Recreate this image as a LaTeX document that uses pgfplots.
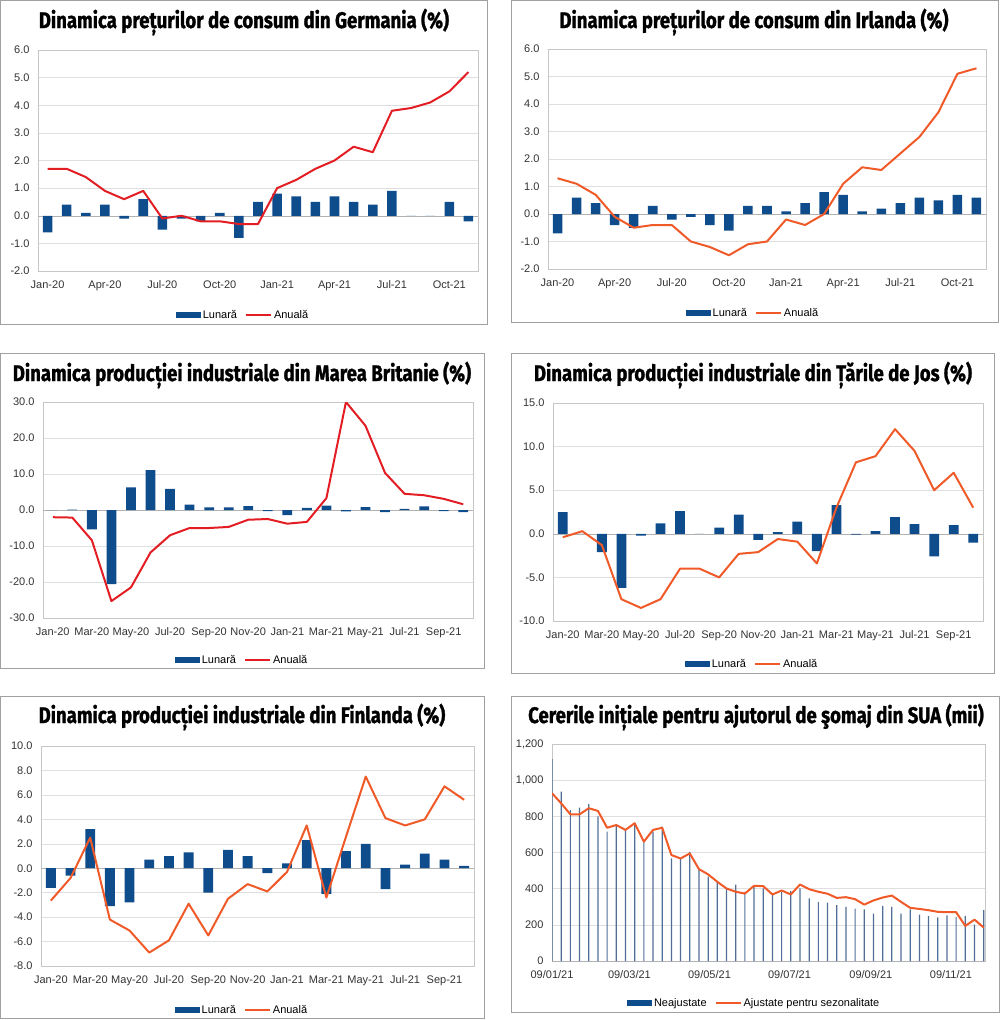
\documentclass[border=0pt]{standalone}
\usepackage{fontspec}
\setmainfont{Liberation Sans}
\newfontfamily\titlefont{Fira Sans}[FakeStretch=0.825, BoldFeatures={FakeBold=1.2}]
\usepackage{pgfplots}
\pgfplotsset{compat=1.18}
\usepackage{pgfplotstable}

\definecolor{lunar}{RGB}{15,76,140}
\definecolor{anred}{RGB}{226,30,36}
\definecolor{anorg}{RGB}{240,90,40}
\definecolor{usbar}{RGB}{80,110,150}
\definecolor{frame}{RGB}{160,160,160}

% i = luna (0 = Jan-20), m = lunara, a = anuala
\pgfplotstableread{
i m a
0 -0.6 1.7
1 0.4 1.7
2 0.1 1.4
3 0.4 0.9
4 -0.1 0.6
5 0.6 0.9
6 -0.5 -0.1
7 -0.1 0.0
8 -0.2 -0.2
9 0.1 -0.2
10 -0.8 -0.3
11 0.5 -0.3
12 0.8 1.0
13 0.7 1.3
14 0.5 1.7
15 0.7 2.0
16 0.5 2.5
17 0.4 2.3
18 0.9 3.8
19 0.0 3.9
20 0.0 4.1
21 0.5 4.5
22 -0.2 5.2
}\germania

\pgfplotstableread{
i m a
0 -0.7 1.3
1 0.6 1.1
2 0.4 0.7
3 -0.4 -0.1
4 -0.5 -0.5
5 0.3 -0.4
6 -0.2 -0.4
7 -0.1 -1.0
8 -0.4 -1.2
9 -0.6 -1.5
10 0.3 -1.1
11 0.3 -1.0
12 0.1 -0.2
13 0.4 -0.4
14 0.8 0.0
15 0.7 1.1
16 0.1 1.7
17 0.2 1.6
18 0.4 2.2
19 0.6 2.8
20 0.5 3.7
21 0.7 5.1
22 0.6 5.3
}\irlanda

\pgfplotstableread{
i m a
0 0.0 -2.0
1 0.1 -2.1
2 -5.4 -8.4
3 -20.6 -25.3
4 6.3 -21.5
5 11.1 -11.8
6 5.9 -7.0
7 1.5 -5.0
8 0.7 -5.0
9 0.7 -4.7
10 1.1 -2.7
11 -0.3 -2.5
12 -1.4 -3.8
13 0.6 -3.3
14 1.2 3.3
15 -0.4 30.0
16 0.8 23.4
17 -0.6 10.3
18 0.3 4.5
19 1.0 4.1
20 -0.3 3.1
21 -0.6 1.6
}\britania

\pgfplotstableread{
i m a
0 2.5 -0.4
1 0.0 0.3
2 -2.1 -1.3
3 -6.2 -7.5
4 -0.2 -8.5
5 1.2 -7.5
6 2.6 -4.0
7 0.0 -4.0
8 0.7 -5.0
9 2.2 -2.3
10 -0.7 -2.1
11 0.2 -0.6
12 1.4 -0.9
13 -2.0 -3.4
14 3.3 3.0
15 -0.1 8.2
16 0.3 8.9
17 1.9 12.0
18 1.1 9.5
19 -2.6 5.0
20 1.0 7.0
21 -1.0 3.0
}\tarilejos

\pgfplotstableread{
i m a
0 -1.6 -2.65
1 -0.6 -0.8
2 3.2 2.5
3 -3.1 -4.2
4 -2.8 -5.1
5 0.7 -6.9
6 1.0 -5.9
7 1.3 -2.9
8 -2.0 -5.5
9 1.5 -2.5
10 1.0 -1.3
11 -0.4 -1.9
12 0.4 -0.3
13 2.3 3.5
14 -2.1 -2.4
15 1.4 2.6
16 2.0 7.5
17 -1.7 4.1
18 0.3 3.5
19 1.2 4.0
20 0.7 6.7
21 0.2 5.6
}\finlanda

% d = zile de la 09/01/21, n = neajustate, s = ajustate sezonier (mii)
\pgfplotstableread{
d n s
0 1116 928
7 937 872
14 835 811
21 848 811
28 867 845
35 800 830
42 715 737
49 752 752
56 725 725
63 762 762
70 660 660
77 715 725
84 743 737
91 567 586
98 567 567
105 604 595
112 503 508
119 466 479
126 438 438
133 405 401
140 423 383
147 383 373
154 410 416
161 401 414
168 368 368
175 383 390
182 386 368
189 401 423
196 346 397
203 327 383
210 323 372
217 309 349
224 299 353
231 290 342
238 285 312
245 262 335
252 305 351
259 299 362
266 262 327
273 286 294
280 257 288
287 248 281
294 242 272
301 253 270
308 244 270
315 250 194
322 201 229
329 281 185
}\somaj

\pgfplotsset{
  panel/.style={
    scale only axis, anchor=south west,
    axis line style={gray!45},
    ymajorgrids, grid style={gray!25},
    major tick length=0pt,
    tick label style={font=\fontsize{11}{13}\selectfont, text=black!80},
    xticklabel style={yshift=-6pt},
    yticklabel style={xshift=-5pt},
    /pgf/number format/assume math mode=true,
    yticklabel style={/pgf/number format/.cd, fixed, fixed zerofill, precision=1},
    extra y ticks={0}, extra y tick labels={},
    extra y tick style={grid style={gray!60}},
    legend style={draw=none, fill=none, legend columns=2, anchor=center,
      font=\fontsize{11}{13}\selectfont,
      /tikz/every even column/.append style={column sep=6pt}},
  },
  lunara/.style={ybar, bar width=0.5, fill=lunar, draw=none,
    legend image code/.code={\fill[lunar] (0pt,-3pt) rectangle (25pt,3pt);}},
  anuala/.style={line width=2pt, #1, no marks, line join=round,
    legend image code/.code={\draw[#1, line width=2pt] (0pt,0pt) -- (25pt,0pt);}},
}
\tikzset{titlu/.style={font=\titlefont\bfseries\fontsize{22.5}{26}\selectfont}}

\begin{document}
\begin{tikzpicture}
\path[use as bounding box] (0,0) rectangle (1000pt,-1020pt);

% chenarele
\draw[frame] (0.5pt,-0.5pt) rectangle (487pt,-324pt);
\draw[frame] (511pt,-0.5pt) rectangle (998pt,-322pt);
\draw[frame] (0.5pt,-353pt) rectangle (484pt,-668pt);
\draw[frame] (511pt,-353pt) rectangle (994pt,-673pt);
\draw[frame] (0.5pt,-696pt) rectangle (484pt,-1018pt);
\draw[frame] (511pt,-696pt) rectangle (999pt,-1012pt);

% titluri
\node[titlu] at (244pt,-22pt) {Dinamica prețurilor de consum din Germania (\%)};
\node[titlu] at (754pt,-22pt) {Dinamica prețurilor de consum din Irlanda (\%)};
\node[titlu] at (242pt,-375pt) {Dinamica producției industriale din Marea Britanie (\%)};
\node[titlu] at (753pt,-375pt) {Dinamica producției industriale din Țările de Jos (\%)};
\node[titlu] at (242pt,-717pt) {Dinamica producției industriale din Finlanda (\%)};
\node[titlu] at (756pt,-717pt) {Cererile inițiale pentru ajutorul de şomaj din SUA (mii)};

% Germania
\begin{axis}[panel, at={(38pt,-271pt)}, width=440pt, height=221pt,
  xmin=-0.5, xmax=22.5, ymin=-2, ymax=6, ytick={-2,-1,...,6},
  xtick={0,3,...,21},
  xticklabels={Jan-20,Apr-20,Jul-20,Oct-20,Jan-21,Apr-21,Jul-21,Oct-21},
  legend style={at={(0.466,-0.199)}}]
\addplot[lunara] table[x=i,y=m]{\germania};
\addplot[anuala=anred] table[x=i,y=a]{\germania};
\legend{Lunară,Anuală}
\end{axis}

% Irlanda
\begin{axis}[panel, at={(548pt,-269pt)}, width=438pt, height=220pt,
  xmin=-0.5, xmax=22.5, ymin=-2, ymax=6, ytick={-2,-1,...,6},
  xtick={0,3,...,21},
  xticklabels={Jan-20,Apr-20,Jul-20,Oct-20,Jan-21,Apr-21,Jul-21,Oct-21},
  legend style={at={(0.468,-0.2)}}]
\addplot[lunara] table[x=i,y=m]{\irlanda};
\addplot[anuala=anorg] table[x=i,y=a]{\irlanda};
\legend{Lunară,Anuală}
\end{axis}

% Marea Britanie
\begin{axis}[panel, at={(43pt,-618pt)}, width=430pt, height=216pt,
  xmin=-0.5, xmax=21.5, ymin=-30, ymax=30, ytick={-30,-20,...,30},
  xtick={0,2,...,20},
  xticklabels={Jan-20,Mar-20,May-20,Jul-20,Sep-20,Nov-20,Jan-21,Mar-21,May-21,Jul-21,Sep-21},
  legend style={at={(0.463,-0.194)}}]
\addplot[lunara] table[x=i,y=m]{\britania};
\addplot[anuala=anred] table[x=i,y=a]{\britania};
\legend{Lunară,Anuală}
\end{axis}

% Tarile de Jos
\begin{axis}[panel, at={(553pt,-621pt)}, width=430pt, height=218pt,
  xmin=-0.5, xmax=21.5, ymin=-10, ymax=15, ytick={-10,-5,...,15},
  xtick={0,2,...,20},
  xticklabels={Jan-20,Mar-20,May-20,Jul-20,Sep-20,Nov-20,Jan-21,Mar-21,May-21,Jul-21,Sep-21},
  legend style={at={(0.463,-0.197)}}]
\addplot[lunara] table[x=i,y=m]{\tarilejos};
\addplot[anuala=anorg] table[x=i,y=a]{\tarilejos};
\legend{Lunară,Anuală}
\end{axis}

% Finlanda
\begin{axis}[panel, at={(41pt,-966pt)}, width=433pt, height=220pt,
  xmin=-0.5, xmax=21.5, ymin=-8, ymax=10, ytick={-8,-6,...,10},
  xtick={0,2,...,20},
  xticklabels={Jan-20,Mar-20,May-20,Jul-20,Sep-20,Nov-20,Jan-21,Mar-21,May-21,Jul-21,Sep-21},
  legend style={at={(0.464,-0.2)}}]
\addplot[lunara] table[x=i,y=m]{\finlanda};
\addplot[anuala=anorg] table[x=i,y=a]{\finlanda};
\legend{Lunară,Anuală}
\end{axis}

% SUA
\begin{axis}[panel, at={(552pt,-961pt)}, width=433pt, height=217pt,
  xmin=0, xmax=330, ymin=0, ymax=1200, ytick={0,200,...,1200},
  yticklabel style={/pgf/number format/.cd, fixed, precision=0, 1000 sep={,}},
  xtick={0,59,120,181,243,304},
  xticklabels={09/01/21,09/03/21,09/05/21,09/07/21,09/09/21,09/11/21},
  legend style={at={(0.467,-0.194)}}]
\addplot[ybar, bar width=1.2pt, fill=usbar, draw=none,
  legend image code/.code={\fill[lunar] (0pt,-3pt) rectangle (25pt,3pt);}]
  table[x=d,y=n]{\somaj};
\addplot[anuala=anorg] table[x=d,y=s]{\somaj};
\legend{Neajustate,Ajustate pentru sezonalitate}
\end{axis}
\end{tikzpicture}
\end{document}
